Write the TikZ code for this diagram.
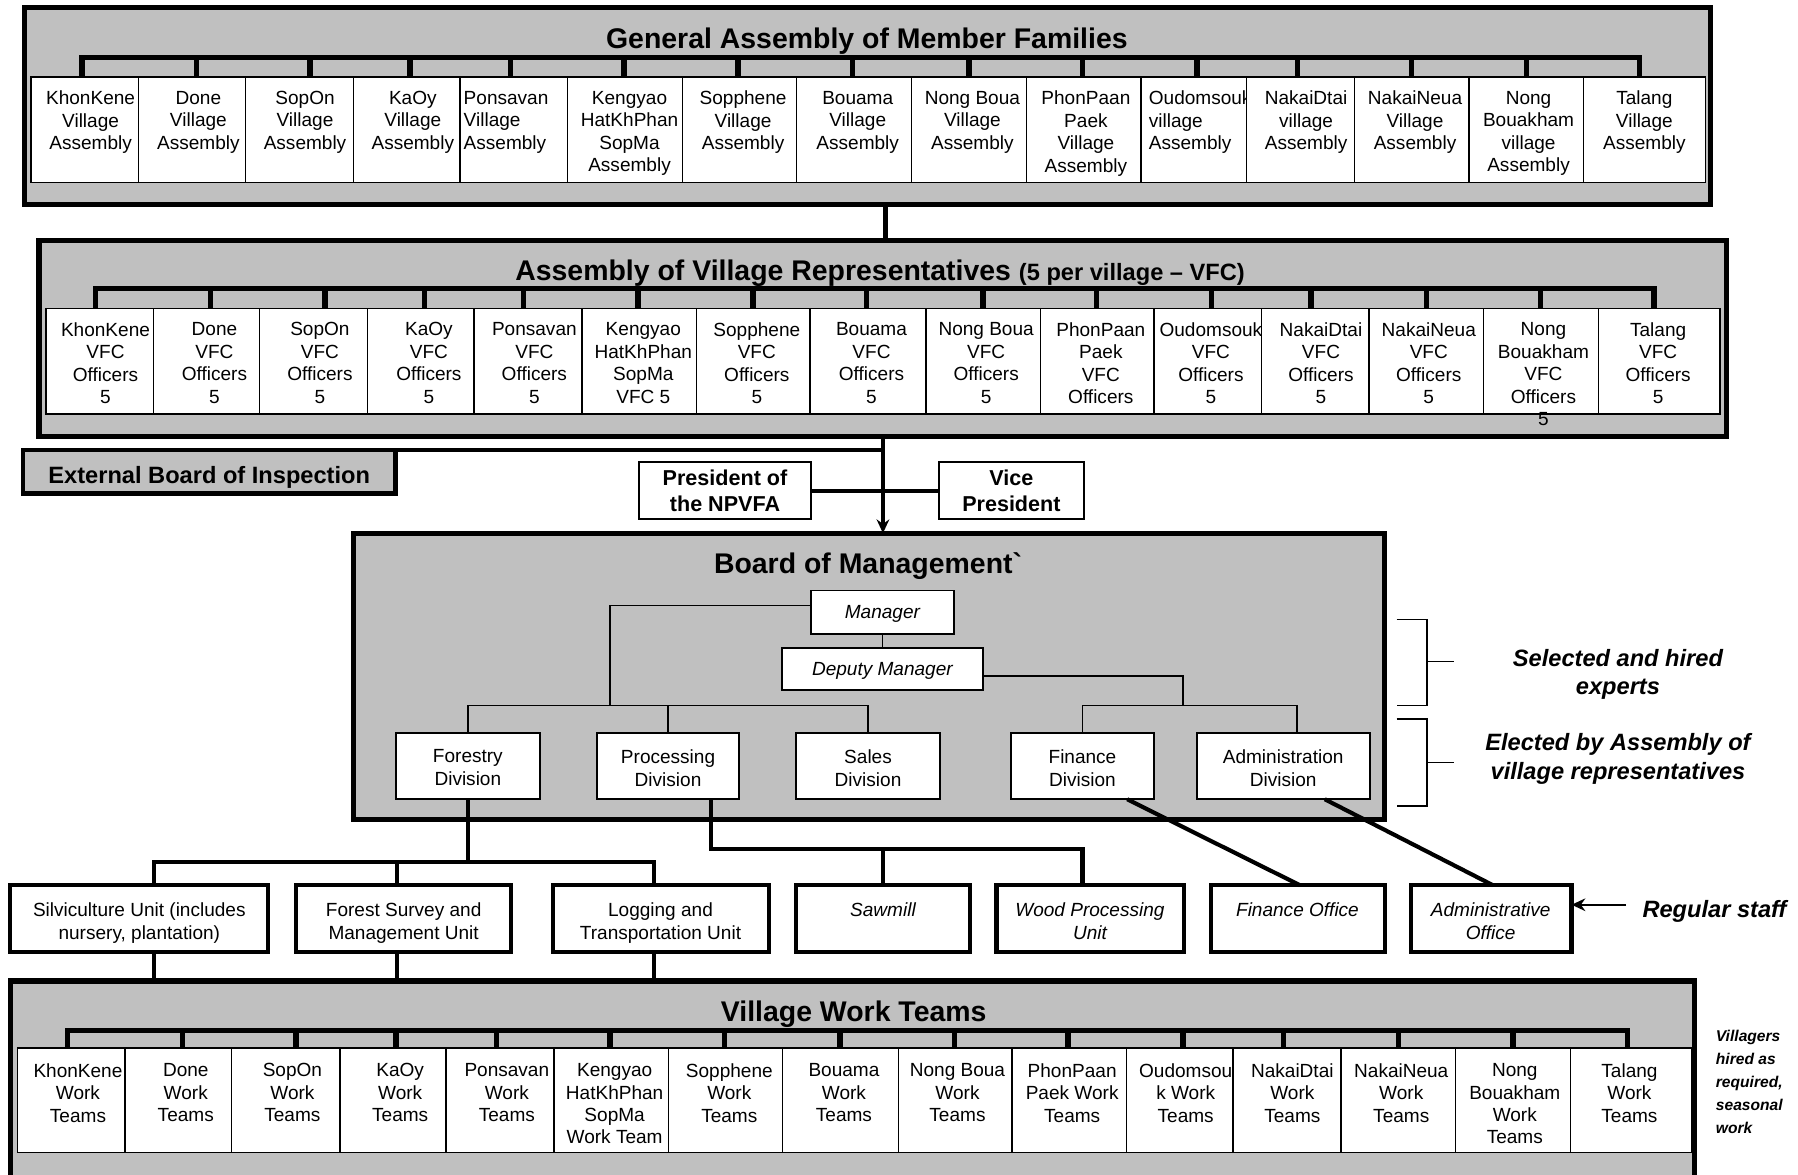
\documentclass[tikz,border=0pt]{standalone}
\usepackage{fontspec}
\setmainfont{Liberation Sans}
\usetikzlibrary{arrows.meta}
\definecolor{panel}{HTML}{C0C0C0}
\newcommand\mkbox[7]{%
  \pgfmathsetmacro\mkbw{((#4)-(#2))/2}%
  \pgfmathsetmacro\mkbh{((#5)-(#3))/2}%
  \node[#6,minimum width=\mkbw pt,minimum height=\mkbh pt] (#1) at ({((#2)+(#4))/2},{((#3)+(#5))/2}) {#7};}
\tikzset{
 body/.style={font=\fontsize{8.3}{9.8}\selectfont},
 panelbox/.style={draw, line width=2.2pt, fill=panel, inner sep=0pt, outer sep=0pt},
 cellbox/.style={draw, line width=0.6pt, fill=white, inner sep=0pt, outer sep=0pt},
 ctr/.style={body, align=center, anchor=north, inner sep=0pt},
 lft/.style={body, align=left, anchor=north west, inner sep=0pt},
 divbox/.style={draw, line width=0.8pt, fill=white, inner sep=0pt, outer sep=0pt, body, align=center},
 unitbox/.style={draw, line width=1.8pt, fill=white, inner sep=0pt, outer sep=0pt},
 offbox/.style={draw, line width=0.9pt, fill=white, inner sep=0pt, outer sep=0pt, align=center, font=\bfseries\fontsize{9.4}{11.5}\selectfont},
 ttl/.style={font=\bfseries\fontsize{12.4}{14}\selectfont, inner sep=0pt},
 barln/.style={line width=2.2pt, line join=miter},
 tickln/.style={line width=2.4pt},
 link/.style={line width=1.8pt},
 fine/.style={line width=0.6pt},
 nt/.style={font=\bfseries\itshape\fontsize{10.3}{12.5}\selectfont, align=center, inner sep=0pt},
 itl/.style={ctr, font=\itshape\fontsize{8.3}{9.8}\selectfont},
}
\begin{document}
\begin{tikzpicture}[x=0.5pt,y=-0.5pt]
\clip (0,0) rectangle (1568,1024);
\fill[white] (0,0) rectangle (1568,1024);

% ---------- General Assembly ----------
\mkbox{gam}{21}{6.5}{1492}{178}{panelbox}{}
\node[ttl, anchor=base] (gamt) at (756,42) {General Assembly of Member Families};
\foreach \i/\a/\b/\tk/\tx/\al/\txt in {
 1/27/121/71.5/79/ctr/{KhonKene\\Village\\Assembly},
 2/121/214/171.5/173/ctr/{Done\\Village\\Assembly},
 3/214/308.5/270.5/266/ctr/{SopOn\\Village\\Assembly},
 4/308.5/401/357.5/360/ctr/{KaOy\\Village\\Assembly},
 5/401/495/445/404/lft/{Ponsavan\\Village\\Assembly},
 6/495/595/544/549/ctr/{Kengyao\\HatKhPhan\\SopMa\\Assembly},
 7/595/694.5/643.5/648/ctr/{Sopphene\\Village\\Assembly},
 8/694.5/795/743.5/748/ctr/{Bouama\\Village\\Assembly},
 9/795/895/845/848/ctr/{Nong Boua\\Village\\Assembly},
 10/895/995/944/947/ctr/{PhonPaan\\Paek\\Village\\Assembly},
 11/995/1087/1044/1001.5/lft/{Oudomsouk\\village\\Assembly},
 12/1087/1181/1131.4/1139/ctr/{NakaiDtai\\village\\Assembly},
 13/1181/1281/1231/1234/ctr/{NakaiNeua\\Village\\Assembly},
 14/1281/1381/1331/1333/ctr/{Nong\\Bouakham\\village\\Assembly},
 15/1381/1487.5/1430/1434/ctr/{Talang\\Village\\Assembly}}{
  \mkbox{g\i}{\a}{67}{\b}{159.3}{cellbox}{}
  \begin{scope}
    \clip (\a,67) rectangle (\b-1,159.3);
    \node[\al] (gt\i) at (\tx,79) {\txt};
  \end{scope}
  \coordinate (gk\i) at (\tk,50);
}
\draw[barln] (gk1 |- g1.north) -- (gk1) -- (gk15) -- (gk15 |- g15.north);
\foreach \i in {2,...,14}{\draw[tickln] (gk\i) -- (gk\i |- g\i.north);}

% ---------- Assembly of Village Representatives ----------
\mkbox{avr}{34}{209.5}{1506}{381}{panelbox}{}
\node[anchor=base west, inner sep=0pt, font=\bfseries] (avrt) at (449,245)
  {\fontsize{12.4}{14}\selectfont Assembly of Village Representatives \fontsize{10.3}{12}\selectfont(5 per village -- VFC)};
\foreach \i/\a/\b/\tk in {
 1/40/134/83.5, 2/134/226.5/183.5, 3/226.5/320.5/283.5, 4/320.5/413.5/370,
 5/413.5/507.5/456.5, 6/507.5/607.5/556.5, 7/607.5/706.5/656.5, 8/706.5/807.4/755.5,
 9/807.4/907.4/857.4, 10/907.4/1006.4/956.4, 11/1006.4/1099.9/1056.4, 12/1099.9/1193.9/1143.4,
 13/1193.9/1293.9/1243.9, 14/1293.9/1393.9/1343.4, 15/1393.9/1499.9/1442.4}{
  \mkbox{r\i}{\a}{269}{\b}{361}{cellbox}{}
  \coordinate (rk\i) at (\tk,252);
}
\foreach \i/\tx/\txt in {
 1/92/{KhonKene\\VFC\\Officers\\5},
 2/187/{Done\\VFC\\Officers\\5},
 3/279/{SopOn\\VFC\\Officers\\5},
 4/374/{KaOy\\VFC\\Officers\\5},
 5/466/{Ponsavan\\VFC\\Officers\\5},
 6/561/{Kengyao\\HatKhPhan\\SopMa\\VFC 5},
 7/660/{Sopphene\\VFC\\Officers\\5},
 8/760/{Bouama\\VFC\\Officers\\5},
 9/860/{Nong Boua\\VFC\\Officers\\5},
 10/960/{PhonPaan\\Paek\\VFC\\Officers},
 11/1056/{Oudomsouk\\VFC\\Officers\\5},
 12/1152/{NakaiDtai\\VFC\\Officers\\5},
 13/1246/{NakaiNeua\\VFC\\Officers\\5},
 14/1346/{Nong\\Bouakham\\VFC\\Officers\\5},
 15/1446/{Talang\\VFC\\Officers\\5}}{
  \node[ctr] (rt\i) at (\tx,281) {\txt};
}
\draw[barln] (rk1 |- r1.north) -- (rk1) -- (rk15) -- (rk15 |- r15.north);
\foreach \i in {2,...,14}{\draw[tickln] (rk\i) -- (rk\i |- r\i.north);}

\coordinate (cg) at (772.5,0);
\draw[link, line width=2.2pt] (gam.south -| cg) -- (avr.north -| cg);

% ---------- Board level ----------
\mkbox{eb}{20}{392.5}{345}{430.5}{panelbox, line width=2pt}{}
\node[font=\bfseries\fontsize{10.3}{12}\selectfont, anchor=base, inner sep=0pt] (ebt) at (182.5,421.5) {External Board of Inspection};
\mkbox{pres}{557}{403}{707.5}{453}{offbox}{President of\\the NPVFA}
\mkbox{vice}{819}{403}{945}{453}{offbox}{Vice\\President}
\mkbox{bm}{308}{465}{1207}{715}{panelbox}{}
\coordinate (cv) at (770,0);
\draw[link] (eb.north east) -- (eb.north east -| cv);
\draw[link] (pres.east) -- (vice.west);
\draw[link, -{Stealth[length=6pt,width=5.5pt]}] (avr.south -| cv) -- (bm.north -| cv);

\node[ttl, anchor=base] (bmt) at (757,500) {Board of Management\textasciigrave};
\mkbox{mgr}{707}{515}{832}{553}{divbox, text depth=0pt, font=\itshape\fontsize{8.3}{9.8}\selectfont}{Manager}
\mkbox{dep}{682}{565}{857}{602}{divbox, text depth=0pt, font=\itshape\fontsize{8.3}{9.8}\selectfont}{Deputy Manager}
\mkbox{fd}{345.5}{639.5}{470.6}{697}{divbox}{}
\mkbox{pd}{520.6}{639.5}{644.6}{697}{divbox}{}
\mkbox{sd}{694.4}{639.5}{819.7}{697}{divbox}{}
\mkbox{fin}{881.5}{639.5}{1006.5}{697}{divbox}{}
\mkbox{ad}{1043.8}{639.5}{1194.4}{697}{divbox}{}
\node[ctr] (fdt) at (408,653.5) {Forestry\\Division};
\node[ctr] (pdt) at (582.6,653.5) {Processing\\Division};
\node[ctr] (sdt) at (757,653.5) {Sales\\Division};
\node[ctr] (fint) at (944,653.5) {Finance\\Division};
\node[ctr] (adt) at (1119,653.5) {Administration\\Division};

\coordinate (mj) at (532,615);
\coordinate (dj) at (1031.7,615);
\coordinate (adx) at (1131,615);
\draw[fine] ([yshift=3pt]mgr.west) -| (mj);
\draw[fine] (fd.north) -- (fd.north |- mj) -- (sd.north |- mj) -- (sd.north);
\draw[fine] (pd.north) -- (pd.north |- mj);
\draw[fine] (mgr.south) -- (dep.north);
\draw[fine] ([yshift=-3pt]dep.east) -| (dj);
\draw[fine] (fin.north) -- (fin.north |- dj) -- (adx) -- (adx |- ad.north);

% side brackets
\draw[fine] (1218,540) -- (1244.5,540) -- (1244.5,615.4) -- (1218,615.4);
\draw[fine] (1244.5,577) -- (1268,577);
\draw[fine] (1218,627) -- (1244.5,627) -- (1244.5,703) -- (1218,703);
\draw[fine] (1244.5,665) -- (1268,665);
\node[nt] (sel) at (1411,588) {Selected and hired\\experts};
\node[nt] (ele) at (1411,662) {Elected by Assembly of\\village representatives};

% ---------- Units ----------
\mkbox{sv}{9}{772}{234}{830}{unitbox}{}
\mkbox{fs}{258}{772}{445.6}{830}{unitbox}{}
\mkbox{lg}{482}{772}{670.8}{830}{unitbox}{}
\mkbox{saw}{694.3}{772}{846}{830}{unitbox}{}
\mkbox{wp}{869}{772}{1032.6}{830}{unitbox}{}
\mkbox{fo}{1055.7}{772}{1207.9}{830}{unitbox}{}
\mkbox{ao}{1230.5}{772}{1370.5}{830}{unitbox}{}
\node[ctr] (svt) at (121.5,787) {Silviculture Unit (includes\\nursery, plantation)};
\node[ctr] (fst) at (352,787) {Forest Survey and\\Management Unit};
\node[ctr] (lgt) at (576,787) {Logging and\\Transportation Unit};
\node[itl] (sawt) at (770,787) {Sawmill};
\node[itl] (wpt) at (950.5,787) {Wood Processing\\Unit};
\node[itl] (fot) at (1131.5,787) {Finance Office};
\node[itl] (aot) at (1300,787) {Administrative\\Office};

\coordinate (fb1) at (134,752);
\coordinate (fb2) at (346,752);
\coordinate (fb3) at (570,752);
\draw[link] (fd.south) -- (fd.south |- fb1);
\draw[link, line join=miter] (fb1 |- sv.north) -- (fb1) -- (fb3) -- (fb3 |- lg.north);
\draw[link] (fb2) -- (fb2 |- fs.north);
\coordinate (pb1) at (620,740);
\coordinate (pb2) at (770,740);
\coordinate (pb3) at (944,740);
\draw[link, line join=miter] (pb1 |- pd.south) -- (pb1) -- (pb3) -- (pb3 |- wp.north);
\draw[link] (pb2) -- (pb2 |- saw.north);
\coordinate (df1) at (983,0);
\coordinate (df2) at (1133.7,0);
\coordinate (da1) at (1155.3,0);
\coordinate (da2) at (1302,0);
\draw[link] (df1 |- fin.south) -- (df2 |- fo.north);
\draw[link] (da1 |- ad.south) -- (da2 |- ao.north);

\node[nt, anchor=base west] (rs) at (1432,800) {Regular staff};
\coordinate (rsa) at (1418,789);
\draw[line width=1pt, -{Stealth[length=6pt,width=5.5pt]}] (rsa) -- (rsa -| ao.east);

% ---------- Village Work Teams ----------
\mkbox{vwt}{9}{855.5}{1478}{1040}{panelbox}{}
\node[ttl, anchor=base] (vwtt) at (744.5,890.4) {Village Work Teams};
\foreach \i/\a/\b/\tk/\tx/\txt in {
 1/15/109/59/68/{KhonKene\\Work\\Teams},
 2/109/201.7/159/162/{Done\\Work\\Teams},
 3/201.7/296.4/258.3/255/{SopOn\\Work\\Teams},
 4/296.4/389/345.4/349/{KaOy\\Work\\Teams},
 5/389/483/433/442/{Ponsavan\\Work\\Teams},
 6/483/583.2/532/536/{Kengyao\\HatKhPhan\\SopMa\\Work Team},
 7/583.2/682.3/631.8/636/{Sopphene\\Work\\Teams},
 8/682.3/783.5/732.4/736/{Bouama\\Work\\Teams},
 9/783.5/882.5/832.4/835/{Nong Boua\\Work\\Teams},
 10/882.5/982.6/931.5/935/{PhonPaan\\Paek Work\\Teams},
 11/982.6/1075.3/1031.7/1034/{Oudomsou\\k Work\\Teams},
 12/1075.3/1169.4/1119.3/1127/{NakaiDtai\\Work\\Teams},
 13/1169.4/1269.5/1219.4/1222/{NakaiNeua\\Work\\Teams},
 14/1269.5/1369.6/1319.4/1321/{Nong\\Bouakham\\Work\\Teams},
 15/1369.6/1475.7/1419.7/1421/{Talang\\Work\\Teams}}{
  \mkbox{w\i}{\a}{914}{\b}{1005}{cellbox}{}
  \node[ctr] (wt\i) at (\tx,927) {\txt};
  \coordinate (wk\i) at (\tk,898.5);
}
\draw[barln] (wk1 |- w1.north) -- (wk1) -- (wk15) -- (wk15 |- w15.north);
\foreach \i in {2,...,14}{\draw[tickln] (wk\i) -- (wk\i |- w\i.north);}

\draw[link] (fb1 |- sv.south) -- (fb1 |- vwt.north);
\draw[link] (fb2 |- fs.south) -- (fb2 |- vwt.north);
\draw[link] (fb3 |- lg.south) -- (fb3 |- vwt.north);

\node[font=\bfseries\itshape\fontsize{6.8}{10}\selectfont, align=left, anchor=north west, inner sep=0pt] (vil) at (1496,898) {Villagers\\hired as\\required,\\seasonal\\work};
\end{tikzpicture}
\end{document}
